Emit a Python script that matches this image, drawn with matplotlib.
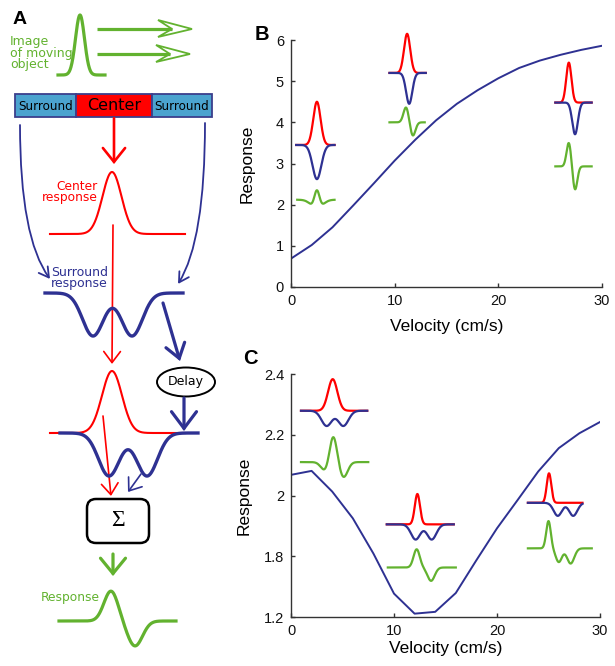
import numpy as np
import matplotlib.pyplot as plt
from matplotlib.patches import Rectangle, Ellipse, FancyBboxPatch, FancyArrowPatch, Polygon

RED = '#ff0000'
BLUE = '#2e3192'
GREEN = '#62b22f'
SKY = '#4ba3cf'
AXC = '#333333'

W, H = 615, 666

# ---- panel B / C curves ----
velocity = [0, 2, 4, 6, 8, 10, 12, 14, 16, 18, 20, 22, 24, 26, 28, 30]
response_b = [0.69, 1.02, 1.45, 1.98, 2.52, 3.07, 3.58, 4.05, 4.45, 4.78, 5.07, 5.32,
              5.50, 5.64, 5.76, 5.86]
response_c = [2.068, 2.081, 2.013, 1.925, 1.809, 1.677, 1.611, 1.617, 1.679,
              1.787, 1.892, 1.985, 2.079, 2.156, 2.205, 2.242]

b_yticks = [0, 1, 2, 3, 4, 5, 6]
c_yticks = [1.6, 1.8, 2.0, 2.2, 2.4]
c_yticklabels = ['1.2', '1.8', '2', '2.2', '2.4']
x_ticks = [0, 10, 20, 30]

# ---- inset pulses: (x range, baseline, [(centre, amp, sigma), ...]) ----
b_insets = [
    dict(rb=(0.5, 4.2), base=3.45, red=[(2.5, 1.05, 0.35)], blue=[(2.5, -0.83, 0.42)],
         gx=(0.6, 4.2), gbase=2.12, green=[(2.5, 0.45, 0.25), (2.5, -0.22, 0.55)]),
    dict(rb=(9.5, 13.0), base=5.2, red=[(11.2, 0.95, 0.3)], blue=[(11.4, -0.75, 0.3)],
         gx=(9.5, 12.9), gbase=4.0, green=[(11.1, 0.37, 0.25), (11.75, -0.33, 0.25)]),
    dict(rb=(25.5, 29.0), base=4.48, red=[(26.8, 0.97, 0.25)], blue=[(27.4, -0.77, 0.27)],
         gx=(25.5, 29.0), gbase=2.93, green=[(26.8, 0.58, 0.22), (27.4, -0.57, 0.22)]),
]
c_insets = [
    dict(rb=(0.97, 7.4), base=2.279, red=[(4.05, 0.104, 0.45)],
         blue=[(3.46, -0.05, 0.5), (5.08, -0.05, 0.5)],
         gx=(0.97, 7.5), gbase=2.11,
         green=[(4.1, 0.088, 0.35), (3.3, -0.028, 0.4), (5.1, -0.05, 0.4)]),
    dict(rb=(9.3, 15.8), base=1.905, red=[(12.27, 0.1, 0.25)],
         blue=[(12.1, -0.05, 0.45), (13.66, -0.05, 0.45)],
         gx=(9.4, 16.0), gbase=1.763,
         green=[(12.2, 0.06, 0.3), (13.6, -0.044, 0.35)]),
    dict(rb=(23.0, 28.3), base=1.976, red=[(25.05, 0.097, 0.22)],
         blue=[(25.9, -0.043, 0.4), (27.4, -0.043, 0.4)],
         gx=(23.0, 29.2), gbase=1.826,
         green=[(25.0, 0.09, 0.22), (26.0, -0.045, 0.3), (27.15, -0.05, 0.35)]),
]


def gauss(x, c, s):
    return np.exp(-(x - c) ** 2 / (2 * s ** 2))


def pulse(x, base, parts):
    y = np.full_like(x, base, dtype=float)
    for c, a, s in parts:
        y = y + a * gauss(x, c, s)
    return y


def draw_insets(ax, insets):
    for ins in insets:
        x = np.linspace(ins['rb'][0], ins['rb'][1], 300)
        ax.plot(x, pulse(x, ins['base'], ins['red']), color=RED, lw=1.6, clip_on=False)
        ax.plot(x, pulse(x, ins['base'], ins['blue']), color=BLUE, lw=1.6, clip_on=False)
        xg = np.linspace(ins['gx'][0], ins['gx'][1], 300)
        ax.plot(xg, pulse(xg, ins['gbase'], ins['green']), color=GREEN, lw=1.6, clip_on=False)


def style_axes(ax):
    for s in ['top', 'right']:
        ax.spines[s].set_visible(False)
    for s in ['left', 'bottom']:
        ax.spines[s].set_color(AXC)
        ax.spines[s].set_linewidth(1.0)
    ax.tick_params(direction='in', length=3, width=1, color=AXC, labelsize=10.5,
                   pad=5, labelcolor='#111111')


def box(x0, y0, x1, y1):
    return [x0 / W, 1 - y1 / H, (x1 - x0) / W, (y1 - y0) / H]


fig = plt.figure(figsize=(W / 100, H / 100), dpi=100)
plt.rcParams['font.family'] = ['Liberation Sans', 'DejaVu Sans']

# ---------------- panel B ----------------
axb = fig.add_axes(box(291, 40, 602, 287))
axb.plot(velocity, response_b, color=BLUE, lw=1.4)
axb.set_xlim(0, 30)
axb.set_ylim(0, 6)
axb.set_xticks(x_ticks)
axb.set_yticks(b_yticks)
style_axes(axb)
axb.set_xlabel('Velocity (cm/s)', fontsize=12.5)
axb.set_ylabel('Response', fontsize=12.5)
axb.xaxis.set_label_coords(0.5, -0.13)
axb.yaxis.set_label_coords(-0.116, 0.5)
draw_insets(axb, b_insets)

# ---------------- panel C ----------------
axc = fig.add_axes(box(291, 374, 600, 617))
axc.plot(velocity, response_c, color=BLUE, lw=1.4)
axc.set_xlim(0, 30)
axc.set_ylim(1.6, 2.4)
axc.set_xticks(x_ticks)
axc.set_yticks(c_yticks)
axc.set_yticklabels(c_yticklabels)
style_axes(axc)
axc.set_xlabel('Velocity (cm/s)', fontsize=12.5)
axc.set_ylabel('Response', fontsize=12.5)
axc.xaxis.set_label_coords(0.5, -0.1)
axc.yaxis.set_label_coords(-0.126, 0.5)
draw_insets(axc, c_insets)

# ---------------- panel A (schematic, pixel coordinates) ----------------
axa = fig.add_axes([0, 0, 230 / W, 1])
axa.set_xlim(0, 230)
axa.set_ylim(H, 0)
axa.axis('off')
sans = 'DejaVu Sans'


def arrow(p0, p1, color, lw, hl, hw, conn='arc3,rad=0'):
    a = FancyArrowPatch(p0, p1, arrowstyle=f'->,head_length={hl},head_width={hw}',
                        connectionstyle=conn, color=color, lw=lw,
                        shrinkA=0, shrinkB=0, mutation_scale=1, capstyle='round',
                        joinstyle='miter')
    axa.add_patch(a)


# moving object
xs = np.linspace(58, 105, 200)
axa.plot(xs, 75 - 60 * gauss(xs, 80, 4.5), color=GREEN, lw=2.3)
axa.text(10, 35, 'Image\nof moving\nobject', color=GREEN, fontsize=9, family=sans,
         va='top', ha='left', linespacing=0.85)
for yy, xt in [(29, 192), (54, 190)]:
    axa.plot([97, xt - 20], [yy, yy], color=GREEN, lw=2.3, solid_capstyle='butt')
    head = Polygon([(xt - 34, yy - 9), (xt, yy), (xt - 34, yy + 8), (xt - 20, yy)],
                   closed=True, facecolor='white', edgecolor=GREEN, lw=1.3)
    axa.add_patch(head)

# receptive field bar
axa.add_patch(Rectangle((15, 94), 61, 23, facecolor=SKY, edgecolor='#3b3f8c', lw=1.3))
axa.add_patch(Rectangle((76, 94), 76, 23, facecolor=RED, edgecolor='#3b3f8c', lw=1.3))
axa.add_patch(Rectangle((152, 94), 60, 23, facecolor=SKY, edgecolor='#3b3f8c', lw=1.3))
axa.text(45.5, 106, 'Surround', fontsize=8.6, family=sans, ha='center', va='center')
axa.text(182, 106, 'Surround', fontsize=8.6, family=sans, ha='center', va='center')
axa.text(114, 106, 'Center', fontsize=11.5, family=sans, ha='center', va='center')

# center pathway
arrow((114, 118), (114, 164), RED, 1.9, 10, 8)
xs = np.linspace(50, 185, 300)
axa.plot(xs, 234 - 62 * gauss(xs, 112, 9.5), color=RED, lw=1.5)
axa.text(98, 192, 'Center\nresponse', color=RED, fontsize=8.8, family=sans,
         ha='right', va='center', linespacing=0.85)

# surround pathway
arrow((20, 125), (50, 279), BLUE, 1.3, 7, 4, conn='angle3,angleA=90,angleB=126')
arrow((205, 123), (178, 284), BLUE, 1.3, 7, 4, conn='angle3,angleA=90,angleB=58')
axa.text(51, 278, 'Surround\nresponse', color=BLUE, fontsize=9, family=sans,
         ha='left', va='center', linespacing=0.85)
xs = np.linspace(45, 183, 300)
axa.plot(xs, 293 + 43 * (gauss(xs, 93, 10.5) + gauss(xs, 132, 10.5)), color=BLUE, lw=2.4)

# red line down through surround curve
arrow((113, 225), (112, 364), RED, 1.2, 8, 6)

# delay
arrow((163, 303), (180, 361), BLUE, 2.3, 10, 7)
axa.add_patch(Ellipse((186, 382), 58, 29, facecolor='white', edgecolor='black', lw=1.4))
axa.text(186, 382, 'Delay', fontsize=9, family=sans, ha='center', va='center')
arrow((184, 398), (184, 431), BLUE, 2.3, 12, 9)

# combined signals
xs = np.linspace(50, 185, 300)
axa.plot(xs, 433 - 62 * gauss(xs, 112, 10), color=RED, lw=1.5)
xs = np.linspace(60, 198, 300)
axa.plot(xs, 433 + 43 * (gauss(xs, 109, 10.5) + gauss(xs, 147, 10.5)), color=BLUE, lw=2.4)
arrow((103, 416), (111, 496), RED, 1.2, 8, 6)
arrow((141, 474), (128, 492), BLUE, 1.2, 8, 6)

# summation
axa.add_patch(FancyBboxPatch((87, 499), 62, 44, boxstyle='round,pad=0,rounding_size=9',
                             facecolor='white', edgecolor='black', lw=1.8))
axa.text(118, 521, 'Σ', fontsize=17, family='Liberation Serif', ha='center', va='center')
arrow((113, 554), (113, 576), GREEN, 2.3, 11, 9)

# output
axa.text(70, 598, 'Response', color=GREEN, fontsize=8.8, family=sans, ha='center',
         va='center')
xs = np.linspace(59, 176, 300)
axa.plot(xs, 621 - 30 * gauss(xs, 111, 7) + 25 * gauss(xs, 135, 7.5), color=GREEN, lw=2.3)

# panel letters
fig.text(20 / W, 1 - 20 / H, 'A', fontsize=14, fontweight='bold', ha='center', va='center')
fig.text(262 / W, 1 - 34 / H, 'B', fontsize=14.5, fontweight='bold', ha='center', va='center')
fig.text(250 / W, 1 - 358 / H, 'C', fontsize=14.5, fontweight='bold', ha='center', va='center')

fig.savefig('out.png', dpi=100)
